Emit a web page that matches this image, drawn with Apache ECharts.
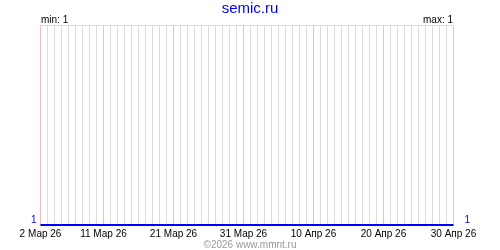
<!DOCTYPE html>
<html><head><meta charset="utf-8">
<script src="https://cdn.jsdelivr.net/npm/echarts@6/dist/echarts.min.js"></script>
<style>html,body{margin:0;padding:0;background:#fff}#c{width:500px;height:250px}</style>
</head><body><div id="c"></div>
<script>
// Data
var titleText = 'semic.ru';
var footerText = '©2026 www.mmnt.ru';
var monthNames = ['Мар', 'Апр'];
var monthDays = [[2, 31], [1, 30]]; // day ranges for each month, year 26
var categories = [];
for (var m = 0; m < monthNames.length; m++) {
  for (var d = monthDays[m][0]; d <= monthDays[m][1]; d++) categories.push(d + ' ' + monthNames[m] + ' 26');
}
var values = [1,1,1,1,1,1,1,1,1,1,1,1,1,1,1,1,1,1,1,1,1,1,1,1,1,1,1,1,1,1,
              1,1,1,1,1,1,1,1,1,1,1,1,1,1,1,1,1,1,1,1,1,1,1,1,1,1,1,1,1,1];
var tickLabels = ['2 Мар 26','11 Мар 26','21 Мар 26','31 Мар 26','10 Апр 26','20 Апр 26','30 Апр 26'];

var vmin = Math.min.apply(null, values), vmax = Math.max.apply(null, values);
var FONT = 'Liberation Sans';
function isTick(i) { return tickLabels.indexOf(categories[i]) >= 0; }

var chart = echarts.init(document.getElementById('c'), null, {renderer: 'canvas'});
chart.setOption({
  animation: false,
  backgroundColor: '#fff',
  title: [
    {text: titleText, left: 'center', top: 1, padding: 0, textStyle: {color: '#0000ff', fontFamily: FONT, fontSize: 15, fontWeight: 'normal'}},
    {text: 'min: ' + vmin, left: 41, top: 15, padding: 0, textStyle: {color: '#000', fontFamily: FONT, fontSize: 10, fontWeight: 'normal'}},
    {text: 'max: ' + vmax, right: 47, top: 15, padding: 0, textStyle: {color: '#000', fontFamily: FONT, fontSize: 10, fontWeight: 'normal'}},
    {text: footerText, left: 'center', top: 240, padding: 0, textStyle: {color: '#999', fontFamily: FONT, fontSize: 10, fontWeight: 'normal'}}
  ],
  grid: {left: 40.5, right: 46.5, top: 25.5, bottom: 25, containLabel: false},
  xAxis: [
    {type: 'category', data: categories, boundaryGap: false,
     axisLine: {show: false}, axisTick: {show: false},
     axisLabel: {interval: function (i) { return isTick(i); }, color: '#000', fontFamily: FONT, fontSize: 10, margin: 4},
     splitLine: {show: true, interval: function (i) { return !isTick(i); }, lineStyle: {color: '#dcdcdc', width: 1}}}
  ],
  yAxis: [
    {type: 'value', min: vmin, max: vmin + 1, interval: 1, position: 'left',
     axisLine: {show: false}, axisTick: {show: false},
     axisLabel: {show: true, color: '#0000ff', fontFamily: FONT, fontSize: 10, margin: 4, verticalAlign: 'bottom',
       formatter: function (v) { return v === vmin ? String(vmin) : ''; }},
     splitLine: {show: true, lineStyle: {color: '#dcdcdc'}}},
    {type: 'value', min: vmin, max: vmin + 1, interval: 1, position: 'right',
     axisLine: {show: false}, axisTick: {show: false},
     axisLabel: {show: true, color: '#0000ff', fontFamily: FONT, fontSize: 10, margin: 11, verticalAlign: 'bottom',
       formatter: function (v) { return v === vmin ? String(values[values.length - 1]) : ''; }},
     splitLine: {show: false}}
  ],
  series: [
    {type: 'line', data: values, xAxisIndex: 0, yAxisIndex: 0, symbol: 'none',
     lineStyle: {color: '#0000ff', width: 2}, z: 5,
     markLine: {silent: true, symbol: ['none', 'none'], label: {show: false}, animation: false, z: 1,
       lineStyle: {color: '#ffb8b8', width: 1, type: 'solid'},
       emphasis: {disabled: true},
       data: tickLabels.map(function (t) { return {xAxis: categories.indexOf(t)}; })}}
  ]
});
</script></body></html>
